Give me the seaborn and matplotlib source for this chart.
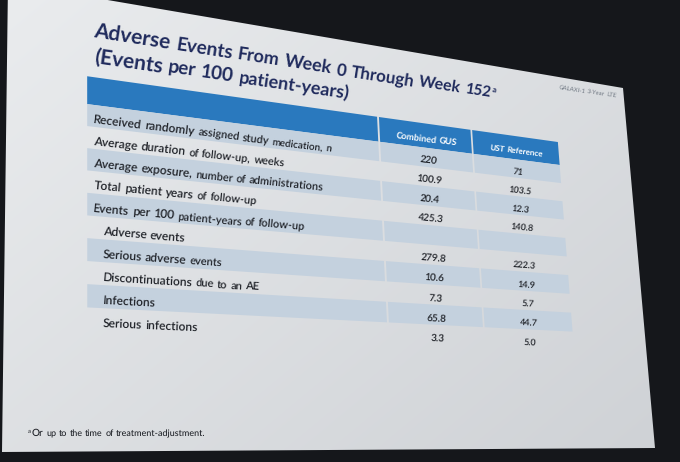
import numpy as np
import matplotlib
matplotlib.use("Agg")
import matplotlib.pyplot as plt
import seaborn as sns
from matplotlib.patches import Polygon
from matplotlib.font_manager import FontProperties
from matplotlib.textpath import TextToPath

# ---------------- data ----------------
title_line1 = "Adverse Events From Week 0 Through Week 152"
title_line2 = "(Events per 100 patient-years)"
title_sup = "a"
badge_text = "GALAXI-1 3-Year LTE"
column_headers = ["Combined GUS", "UST Reference"]
row_labels = [
    "Received randomly assigned study medication, n",
    "Average duration of follow-up, weeks",
    "Average exposure, number of administrations",
    "Total patient years of follow-up",
    "Events per 100 patient-years of follow-up",
    "Adverse events",
    "Serious adverse events",
    "Discontinuations due to an AE",
    "Infections",
    "Serious infections",
]
row_indent = [0, 0, 0, 0, 0, 1, 1, 1, 1, 1]
gus_values = ["220", "100.9", "20.4", "425.3", "", "279.8", "10.6", "7.3", "65.8", "3.3"]
ust_values = ["71", "103.5", "12.3", "140.8", "", "222.3", "14.9", "5.7", "44.7", "5.0"]
footnote_sup = "a"
footnote_text = "Or up to the time of treatment-adjustment."

# ---------------- style ----------------
sns.set_theme(style="white")
plt.rcParams['font.family'] = ['Lato', 'DejaVu Sans']
plt.rcParams['text.hinting'] = 'no_hinting'
plt.rcParams['text.hinting_factor'] = 1
BLUE = '#2a79be'
SHADE = '#c4d1de'
NAVY = '#1f2a5c'
TXT = '#1e2127'
DARK_BG = '#15171b'

# ---------------- geometry: flat 16x9 slide photographed in perspective ----------------
W_PX, H_PX, DPI = 680, 462, 100
SLIDE_W, SLIDE_H = 16.0, 9.0
SLIDE_CORNERS_PX = [(8, -17), (623, 88), (655, 448), (2, 452)]  # TL, TR, BR, BL in photo


def fit_homography(src, dst):
    A, b = [], []
    for (u, v), (x, y) in zip(src, dst):
        A.append([u, v, 1, 0, 0, 0, -u * x, -v * x]); b.append(x)
        A.append([0, 0, 0, u, v, 1, -u * y, -v * y]); b.append(y)
    h = np.linalg.solve(np.array(A, float), np.array(b, float))
    return np.append(h, 1.0).reshape(3, 3)


HM = fit_homography([(0, 0), (SLIDE_W, 0), (SLIDE_W, SLIDE_H), (0, SLIDE_H)], SLIDE_CORNERS_PX)


def proj(X, Y):
    p = HM @ np.array([X, Y, 1.0])
    return p[0] / p[2], p[1] / p[2]


# table layout in slide units
COL_EDGES = [1.63, 8.50, 11.09, 13.70]
HEADER_TOP, HEADER_BOTTOM = 1.675, 2.25
ROW_H = 0.449
GAP = 0.05
LABEL_X = [1.757, 1.947]
TEXT_DROP = 0.05
SPACE_BOOST = 1.12

fig = plt.figure(figsize=(W_PX / DPI, H_PX / DPI), dpi=DPI)
fig.patch.set_facecolor(DARK_BG)
ax = fig.add_axes([0, 0, 1, 1])
ax.axis('off')
renderer = fig.canvas.get_renderer()


def quad(x0, y0, x1, y1, **kw):
    pts = [proj(x0, y0), proj(x1, y0), proj(x1, y1), proj(x0, y1)]
    p = Polygon(pts, closed=True, **kw)
    ax.add_patch(p)
    return p


# slide surface with soft light falloff
slide = quad(0, 0, SLIDE_W, SLIDE_H, facecolor='none', edgecolor='none')
yy, xx = np.mgrid[0:H_PX, 0:W_PX]
v = np.clip(0.55 * xx / W_PX + 0.45 * yy / H_PX, 0, 1)[..., None]
c0 = np.array([234, 236, 238]) / 255.0
c1 = np.array([206, 209, 213]) / 255.0
img = c0 * (1 - v) + c1 * v
im = ax.imshow(img, extent=(0, W_PX, H_PX, 0), aspect='auto', interpolation='bilinear', zorder=0)
im.set_clip_path(slide)

# ---------------- text helpers ----------------
ttp = TextToPath()


def text_width(s, family, weight, em):
    """unhinted width in slide units for em size `em`"""
    if not s:
        return 0.0
    fp = FontProperties(family=family, weight=weight, size=100)
    w, _, _ = ttp.get_text_width_height_descent(s, fp, ismath=False)
    return w / 100.0 * em


def px_width(s, family, weight, size_pt):
    fp = FontProperties(family=[family, 'DejaVu Sans'], weight=weight, size=size_pt)
    w, _, _ = renderer.get_text_width_height_descent(s, fp, ismath=False)
    return w


def local_frame(X, Y):
    x0, y0 = proj(X, Y)
    x1, y1 = proj(X + 0.05, Y)
    dx, dy = (x1 - x0) / 0.05, (y1 - y0) / 0.05
    return (x0, y0), np.hypot(dx, dy), np.degrees(np.arctan2(-dy, dx))


def advance(X, Y, dist_px, sc):
    """slide X reached after moving dist_px pixels along the projected line"""
    nx = X + dist_px / sc
    p0 = np.array(proj(X, Y))
    for _ in range(4):
        d = np.hypot(*(np.array(proj(nx, Y)) - p0))
        if d <= 0:
            break
        nx = X + (nx - X) * dist_px / d
    return nx


def layout_words(X, Y, words, em, family, weight):
    out = []
    cx = X
    last_end = X
    for w in words:
        (px, py), sc, ang = local_frame(cx, Y)
        size = em * sc * 72 / DPI
        wpx = px_width(w, family, weight, size) if w else 0.0
        spx = (px_width('a a', family, weight, size) - px_width('aa', family, weight, size)) * SPACE_BOOST
        out.append((w, px, py, size, ang))
        last_end = advance(cx, Y, wpx, sc)
        cx = advance(cx, Y, wpx + spx, sc)
    return out, last_end - X


def slide_text(X, Y, s, em, family='Lato', weight='normal', color=TXT, align='left'):
    words = s.split(' ')
    placed, total = layout_words(X, Y, words, em, family, weight)
    if align != 'left':
        X -= total / 2 if align == 'center' else total
        placed, total = layout_words(X, Y, words, em, family, weight)
    for w, px, py, size, ang in placed:
        if w:
            ax.text(px, py, w, fontsize=size, rotation=ang,
                    rotation_mode='anchor', ha='left', va='baseline',
                    family=[family, 'DejaVu Sans'], fontweight=weight, color=color, zorder=5)
    return X, total


CAP = 0.7165  # Lato cap height / em

# em sizes fitted to the widths measured on the slide
em_title = 9.55 / text_width(title_line1, 'Lato', 'bold', 1.0)
em_label = 5.375 / text_width(row_labels[0], 'Lato', 'semibold', 1.0)
em_head = 1.65 / text_width(column_headers[0], 'Lato', 'bold', 1.0)
em_foot = 3.45 / text_width(footnote_text, 'Lato', 'normal', 1.0)
em_badge = 1.87 / text_width(badge_text, 'Lato', 'normal', 1.0)

# ---------------- title ----------------
x0, tw = slide_text(1.76, 0.83, title_line1, em_title, weight='bold', color=NAVY)
slide_text(x0 + tw + 0.06, 0.83 - 0.36 * em_title, title_sup, em_title * 0.55, weight='bold', color=NAVY)
slide_text(1.76, 1.37, title_line2, em_title, weight='bold', color=NAVY)
slide_text(15.85, 0.30, badge_text, em_badge, color='#6f7782', align='right')

# ---------------- table ----------------
for j in range(3):
    quad(COL_EDGES[j] + (GAP / 2 if j else 0), HEADER_TOP,
         COL_EDGES[j + 1] - (GAP / 2 if j < 2 else 0), HEADER_BOTTOM,
         facecolor=BLUE, edgecolor='none', zorder=2)
head_mid = (HEADER_TOP + HEADER_BOTTOM) / 2 + TEXT_DROP
for j, h in enumerate(column_headers):
    cx = (COL_EDGES[j + 1] + COL_EDGES[j + 2]) / 2
    slide_text(cx, head_mid + CAP * em_head / 2, h, em_head, weight='bold', color='white', align='center')

for i, lab in enumerate(row_labels):
    top = HEADER_BOTTOM + i * ROW_H
    if i % 2 == 0:
        for j in range(3):
            quad(COL_EDGES[j] + (GAP / 2 if j else 0), top,
                 COL_EDGES[j + 1] - (GAP / 2 if j < 2 else 0), top + ROW_H,
                 facecolor=SHADE, edgecolor='none', zorder=2)
    base = top + ROW_H / 2 + TEXT_DROP + CAP * em_label / 2
    slide_text(LABEL_X[row_indent[i]], base, lab, em_label, weight='semibold', color=TXT)
    for j, vals in enumerate([gus_values, ust_values]):
        cx = (COL_EDGES[j + 1] + COL_EDGES[j + 2]) / 2
        if vals[i]:
            slide_text(cx, base, vals[i], em_label * 1.05, weight='semibold', color=TXT, align='center')

# ---------------- footnote ----------------
slide_text(0.47, 8.72 - 0.35 * em_foot, footnote_sup, em_foot * 0.6, color=TXT)
slide_text(0.55, 8.72, footnote_text, em_foot, weight='medium', color=TXT)

ax.set_xlim(0, W_PX)
ax.set_ylim(H_PX, 0)
fig.savefig('out.png', dpi=DPI, facecolor=fig.get_facecolor())
